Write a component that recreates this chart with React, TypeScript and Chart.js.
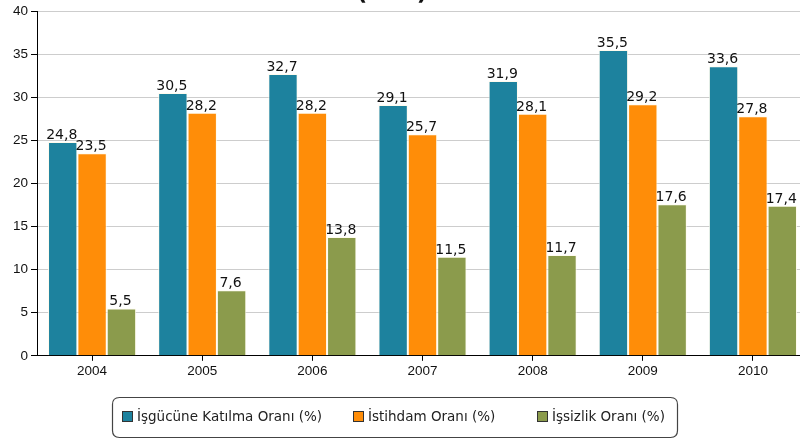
import React, { useEffect, useRef } from "react";
import { Chart, registerables } from "chart.js";

Chart.register(...registerables);

const years = ["2004", "2005", "2006", "2007", "2008", "2009", "2010"];
const participation = [24.8, 30.5, 32.7, 29.1, 31.9, 35.5, 33.6];
const employment = [23.5, 28.2, 28.2, 25.7, 28.1, 29.2, 27.8];
const unemployment = [5.5, 7.6, 13.8, 11.5, 11.7, 17.6, 17.4];
const seriesNames = ["İşgücüne Katılma Oranı (%)", "İstihdam Oranı (%)", "İşsizlik Oranı (%)"];
const seriesColors = ["#1d829e", "#ff8d08", "#8b9b4c"];
const titleText = "(TR2)";

const fmt = (v: number) => v.toFixed(1).replace(".", ",");

const overlayPlugin = {
  id: "overlay",
  afterDatasetsDraw(chart: any) {
    const ctx = chart.ctx as CanvasRenderingContext2D;
    ctx.save();
    ctx.font = '14px "DejaVu Sans"';
    ctx.fillStyle = "#111";
    ctx.textAlign = "center";
    ctx.textBaseline = "alphabetic";
    chart.data.datasets.forEach((ds: any, i: number) => {
      const meta = chart.getDatasetMeta(i);
      meta.data.forEach((bar: any, j: number) => {
        ctx.fillText(fmt(ds.data[j]), bar.x - 1, bar.y - 3);
      });
    });
    ctx.restore();
  },
  afterDraw(chart: any) {
    const ctx = chart.ctx as CanvasRenderingContext2D;
    ctx.save();
    ctx.font = 'bold 23px "DejaVu Sans"';
    ctx.fillStyle = "#111";
    ctx.textAlign = "center";
    ctx.textBaseline = "alphabetic";
    ctx.fillText(titleText, 392, 0);

    const bx = 112.5, by = 397.5, bw = 565, bh = 40, r = 7;
    ctx.beginPath();
    ctx.moveTo(bx + r, by);
    ctx.lineTo(bx + bw - r, by);
    ctx.quadraticCurveTo(bx + bw, by, bx + bw, by + r);
    ctx.lineTo(bx + bw, by + bh - r);
    ctx.quadraticCurveTo(bx + bw, by + bh, bx + bw - r, by + bh);
    ctx.lineTo(bx + r, by + bh);
    ctx.quadraticCurveTo(bx, by + bh, bx, by + bh - r);
    ctx.lineTo(bx, by + r);
    ctx.quadraticCurveTo(bx, by, bx + r, by);
    ctx.closePath();
    ctx.fillStyle = "#fff";
    ctx.fill();
    ctx.strokeStyle = "#444";
    ctx.lineWidth = 1.2;
    ctx.stroke();

    const itemX = [122, 353, 537];
    ctx.font = '13.5px "DejaVu Sans"';
    ctx.textAlign = "left";
    ctx.textBaseline = "middle";
    chart.data.datasets.forEach((ds: any, i: number) => {
      const x = itemX[i];
      ctx.fillStyle = ds.backgroundColor;
      ctx.fillRect(x + 0.5, 411.5, 10, 10);
      ctx.strokeStyle = "#333";
      ctx.lineWidth = 1;
      ctx.strokeRect(x + 0.5, 411.5, 10, 10);
      ctx.fillStyle = "#222";
      ctx.fillText(ds.label, x + 15, 417);
    });
    ctx.restore();
  },
};

export default function App() {
  const ref = useRef<HTMLCanvasElement | null>(null);
  useEffect(() => {
    document.body.style.margin = "0";
    const canvas = ref.current!;
    const chart = new Chart(canvas, {
      type: "bar",
      data: {
        labels: years,
        datasets: [participation, employment, unemployment].map((d, i) => ({
          label: seriesNames[i],
          data: d,
          backgroundColor: seriesColors[i],
          borderColor: "rgba(255,250,235,0.85)",
          borderWidth: { left: 1, right: 1, top: 1, bottom: 0 },
          borderSkipped: false,
          categoryPercentage: 0.8,
          barPercentage: 1,
        })),
      },
      options: {
        responsive: false,
        animation: false,
        layout: { padding: { left: 10, right: 2, top: 10, bottom: 60 } },
        plugins: {
          legend: { display: false },
          tooltip: { enabled: false },
          title: { display: false },
        },
        scales: {
          x: {
            grid: {
              drawOnChartArea: false,
              offset: false,
              tickColor: "#000",
              tickLength: 5,
            },
            border: { color: "#000", width: 1 },
            ticks: {
              color: "#111",
              font: { family: '"Liberation Sans", Arial', size: 13.5 },
              padding: 2,
            },
          },
          y: {
            min: 0,
            max: 40,
            ticks: {
              stepSize: 5,
              color: "#111",
              font: { family: '"Liberation Sans", Arial', size: 13.5 },
              padding: 3,
            },
            grid: { color: "#cdcdcd", tickColor: "#000", tickLength: 6 },
            border: { color: "#000", width: 1 },
          },
        },
      },
      plugins: [overlayPlugin],
    });
    return () => chart.destroy();
  }, []);
  return (
    <div style={{ width: 800, height: 441, overflow: "hidden", position: "relative", background: "#fff" }}>
      <canvas ref={ref} width={810} height={441} style={{ display: "block" }} />
    </div>
  );
}
